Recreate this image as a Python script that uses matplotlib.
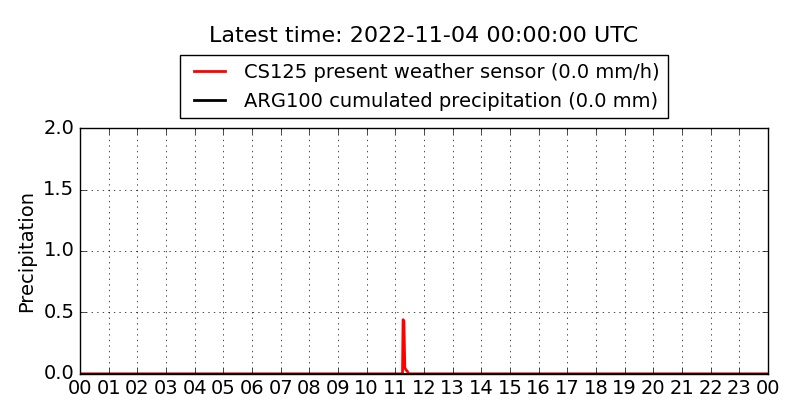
import numpy as np
import matplotlib
matplotlib.use('Agg')
import matplotlib.pyplot as plt

# present weather sensor rain rate (mm/h), time in hours of day
cs_hours = [0.0, 11.2, 11.25, 11.27, 11.3, 11.33, 11.35, 11.38, 11.42, 11.45, 11.5, 24.0]
cs_rate = [0.0, 0.0, 0.0, 0.44, 0.43, 0.05, 0.04, 0.03, 0.02, 0.0, 0.0, 0.0]

# rain gauge cumulated precipitation (mm)
arg_hours = [0.0, 24.0]
arg_cum = [0.0, 0.0]

tick_hours = list(range(25))
tick_labels = ['%02d' % (h % 24) for h in tick_hours]

plt.style.use('classic')
fig = plt.figure(figsize=(8, 4.2), dpi=100, facecolor='white')
ax = fig.add_axes([0.1, 0.11, 0.86, 0.585])

ax.plot(cs_hours, cs_rate, color='red', lw=2, label='CS125 present weather sensor (0.0 mm/h)', zorder=2)
ax.plot(arg_hours, arg_cum, color='black', lw=2, label='ARG100 cumulated precipitation (0.0 mm)', zorder=3)

ax.set_xlim(0, 24)
ax.set_ylim(0, 2.0)
ax.set_xticks(tick_hours)
ax.set_xticklabels(tick_labels)
ax.set_yticks([0.0, 0.5, 1.0, 1.5, 2.0])
ax.tick_params(labelsize=14)
ax.set_ylabel('Precipitation', fontsize=14)
ax.grid(True)

ax.legend(loc='lower center', bbox_to_anchor=(0.5, 1.0), fontsize=14, ncol=1,
          handlelength=2.2, handletextpad=0.7, borderpad=0.4)
fig.text(0.53, 0.9, 'Latest time: 2022-11-04 00:00:00 UTC', ha='center', fontsize=16)

fig.savefig('out.png', dpi=100, facecolor='white')
